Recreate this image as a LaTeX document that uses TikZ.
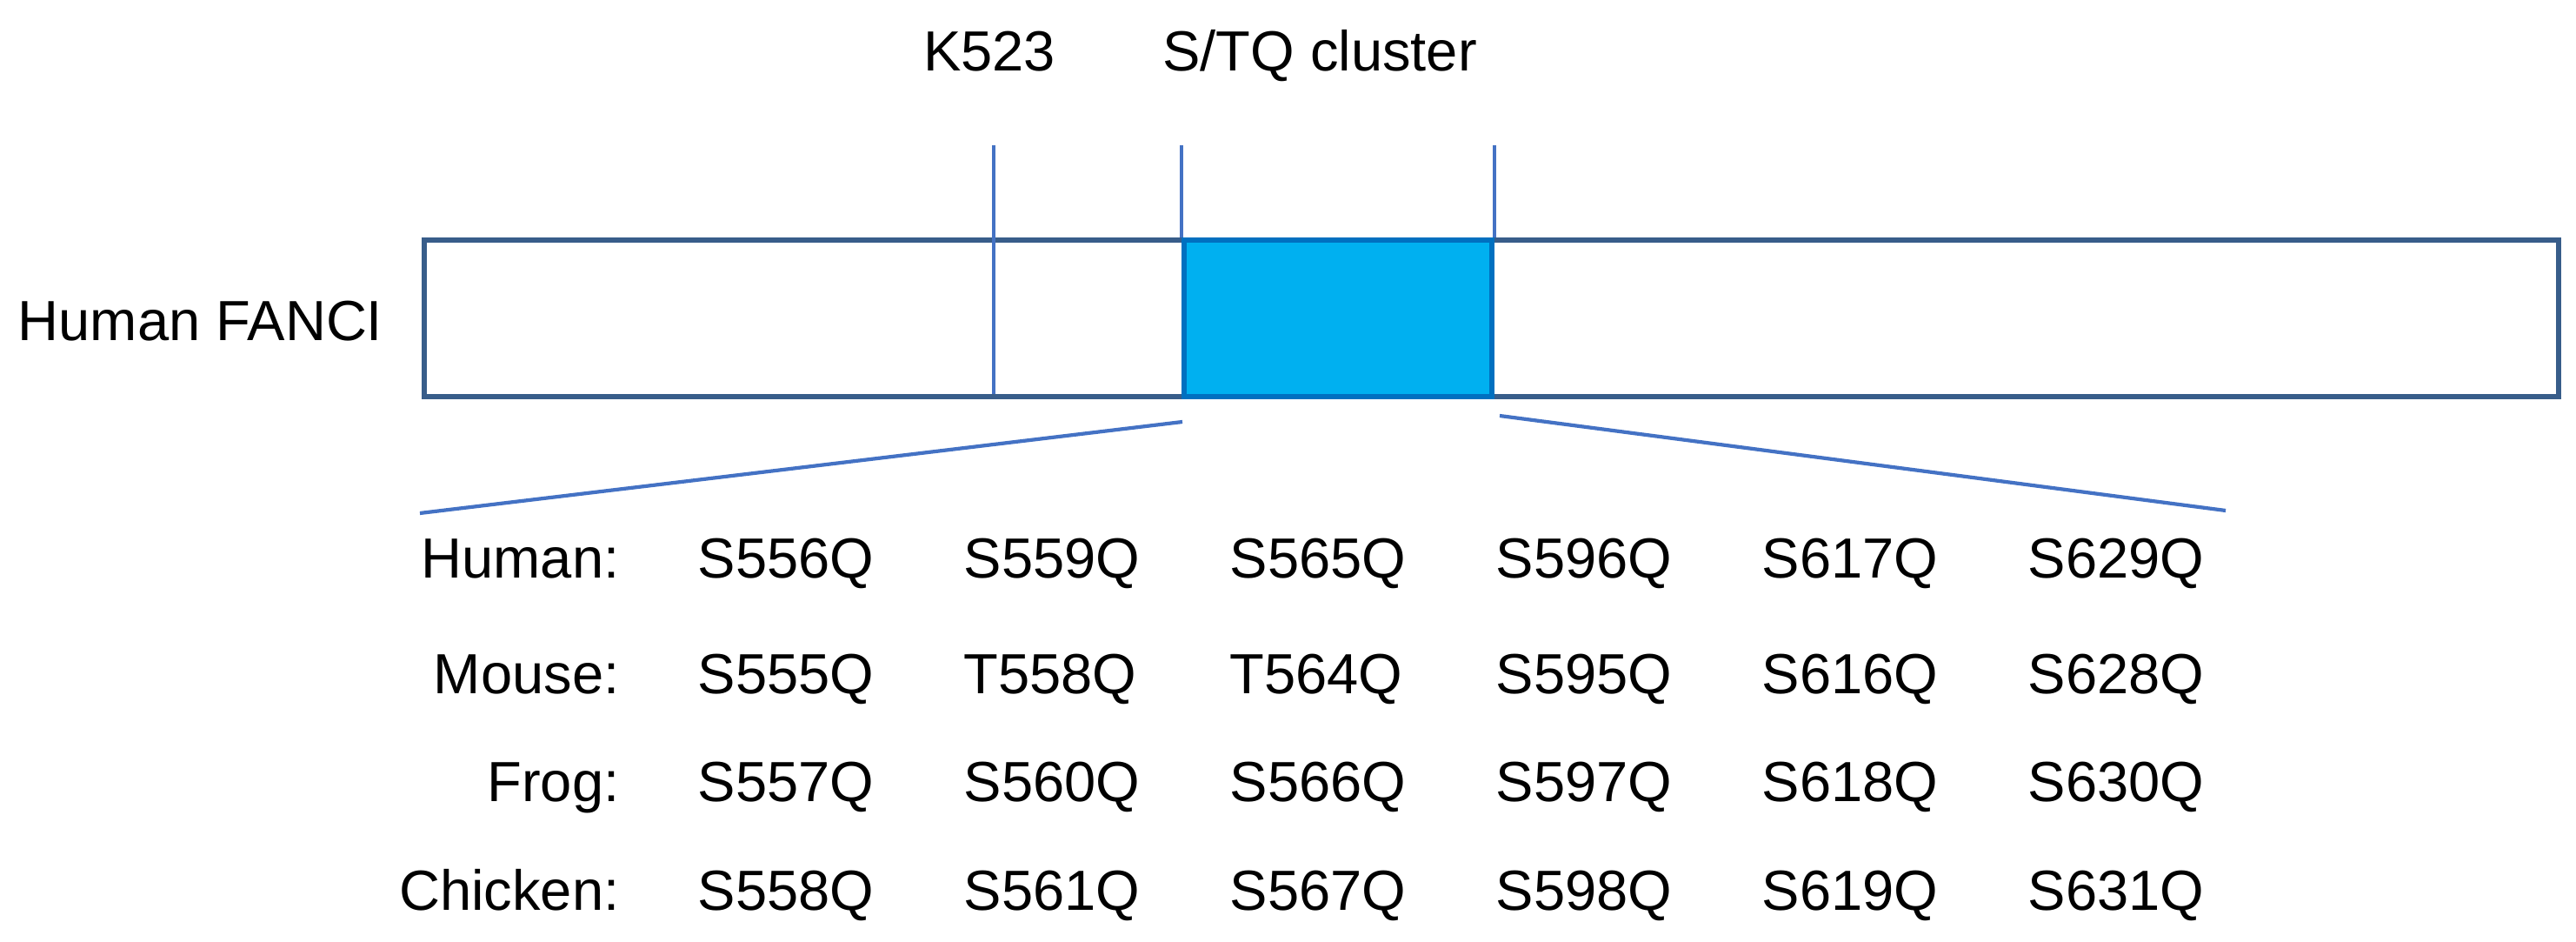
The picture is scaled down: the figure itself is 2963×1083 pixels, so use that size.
\documentclass[tikz,border=0pt]{standalone}
\usepackage{fontspec}
\setmainfont{Liberation Sans}
\definecolor{barblue}{RGB}{56,93,138}
\definecolor{lineblue}{RGB}{68,114,196}
\definecolor{clusterfill}{RGB}{0,176,240}
\definecolor{clusterline}{RGB}{0,112,192}
\begin{document}
\begin{tikzpicture}[x=0.01cm, y=-0.01cm,
        lbl/.style={font=\fontsize{18.5}{22}\selectfont, inner sep=0pt},
        mark line/.style={color=lineblue, line width=1.2pt},
        protbox/.style={draw=barblue, line width=1.6pt, inner sep=0pt, anchor=north west}]
        \useasboundingbox (0,0) rectangle (2963,1083);
        % protein bar
        \node[protbox, minimum width=24.54cm, minimum height=1.8cm] (fanci) at (485,273) {};
        \node[protbox, draw=clusterline, fill=clusterfill, minimum width=3.54cm, minimum height=1.8cm] (stq) at (1359,273) {};
        \node[lbl, anchor=base west] (name) at (20,392) {Human FANCI};
        % marks above the bar
        \coordinate (ktop) at (1143,167);
        \coordinate (kbot) at (1143,453);
        \draw[mark line] (ktop) -- (kbot);
        \draw[mark line] (stq.north west) -- ++(0,-106) coordinate (sl);
        \draw[mark line] (stq.north east) -- ++(0,-106) coordinate (sr);
        \node[lbl, anchor=base] (k523) at (1138,82) {K523};
        \node[lbl, anchor=base] (cluster) at (1518,82) {S/TQ cluster};
        % zoom lines
        \coordinate (zl1) at (1360,485);
        \coordinate (zl2) at (483,590);
        \coordinate (zr1) at (1725,478);
        \coordinate (zr2) at (2560,587);
        \draw[mark line] (zl1) -- (zl2);
        \draw[mark line] (zr1) -- (zr2);
        % species and sites
        \foreach \sp/\y/\a/\b/\c/\d/\e/\f in {
            Human/665/S556Q/S559Q/S565Q/S596Q/S617Q/S629Q,
            Mouse/798/S555Q/T558Q/T564Q/S595Q/S616Q/S628Q,
            Frog/922/S557Q/S560Q/S566Q/S597Q/S618Q/S630Q,
            Chicken/1047/S558Q/S561Q/S567Q/S598Q/S619Q/S631Q} {
            \node[lbl, anchor=base east] (\sp) at (713,\y) {\sp:};
            \foreach \s [count=\i from 0] in {\a,\b,\c,\d,\e,\f}
                \node[lbl, anchor=base west] (\sp-\i) at (802+306*\i,\y) {\s};
        }
    \end{tikzpicture}
\end{document}
